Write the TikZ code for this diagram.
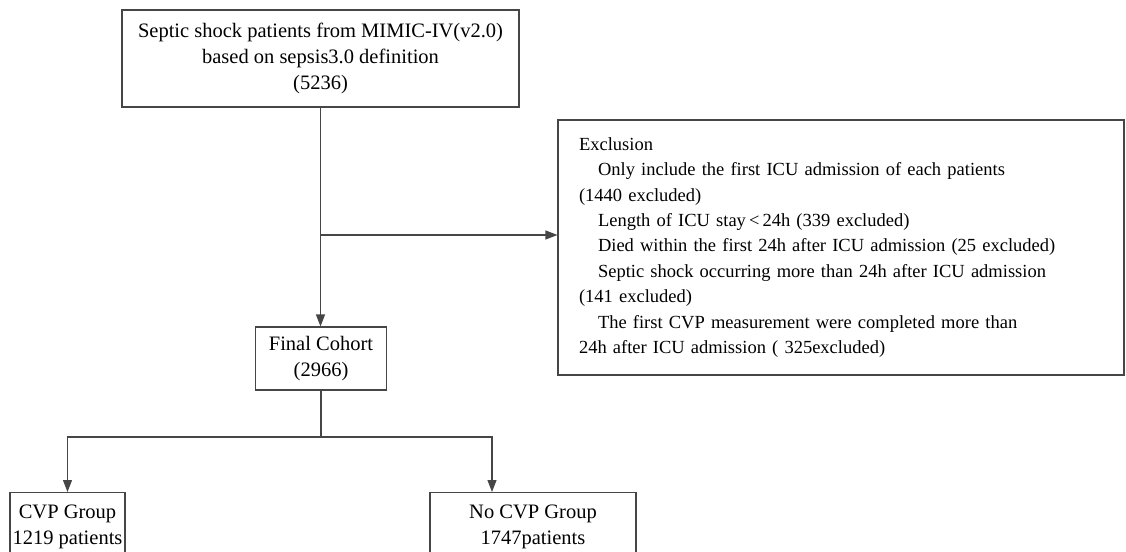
\documentclass[tikz,border=0pt]{standalone}
\usepackage{fontspec}
\setmainfont{Liberation Serif}
\usetikzlibrary{arrows.meta, positioning, calc}
\definecolor{framegray}{RGB}{70,70,70}

\begin{document}
\begin{tikzpicture}[x=1pt,y=-1pt,
    box/.style={draw=framegray, line width=1.1pt, align=center,
      font=\fontsize{20.5}{26}\selectfont, inner sep=0pt},
    link/.style={draw=framegray, line width=1.1pt},
    arr/.style={link, -{Triangle[length=12pt,width=9pt]}}]
  \useasboundingbox (0,0) rectangle (1126,551);
  \clip (0,0) rectangle (1126,551);
  % boxes
  \node[box, minimum width=397pt, minimum height=97pt] (src) at (320.5,58.5)
    {Septic shock patients from MIMIC-IV(v2.0)\\ based on sepsis3.0 definition\\ (5236)};
  \node[box, minimum width=131pt, minimum height=63pt] (final) at (321,358.5)
    {Final Cohort\\ (2966)};
  \node[box, align=left, font=\fontsize{18.5}{25.4}\selectfont, text width=524pt,
        inner xsep=21pt, minimum height=255pt] (excl) at (841,247.5)
    {Exclusion\\
     \hspace*{19pt}Only include the first ICU admission of each patients\\
     (1440 excluded)\\
     \hspace*{19pt}Length of ICU stay\,<\,24h (339 excluded)\\
     \hspace*{19pt}Died within the first 24h after ICU admission (25 excluded)\\
     \hspace*{19pt}Septic shock occurring more than 24h after ICU admission\\
     (141 excluded)\\
     \hspace*{19pt}The first CVP measurement were completed more than\\
     24h after ICU admission ( 325excluded)};
  \node[box, anchor=north, minimum width=115pt, inner ysep=12pt, text depth=30pt] (cvp) at (67.5,492)
    {CVP Group\\ 1219 patients};
  \node[box, anchor=north, minimum width=206pt, inner ysep=12pt, text depth=30pt] (nocvp) at (533,492)
    {No CVP Group\\ 1747patients};
  % connectors
  \coordinate (branch) at (321,235);
  \coordinate (fork) at (321,437);
  \draw[arr] (src.south) -- (src.south |- final.north);
  \draw[arr] (branch) -- (branch -| excl.west);
  \draw[link] (final.south) -- (fork);
  \draw[arr] (fork) -| (cvp.north);
  \draw[arr] (fork) -| ([xshift=-41pt]nocvp.north);
\end{tikzpicture}
\end{document}
